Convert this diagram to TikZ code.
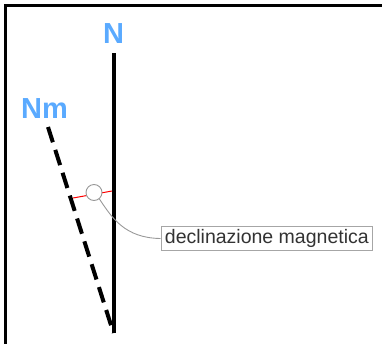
\documentclass[tikz,border=0pt]{standalone}
\usepackage{fontspec}
\setmainfont{Liberation Sans}
\begin{document}
\begin{tikzpicture}[x=1pt,y=-1pt,
  lbl/.style={text=lblue,font=\fontsize{29}{30}\selectfont\bfseries,inner sep=0pt},
  axis/.style={line width=4pt,black},
  callout/.style={draw=gray!70,line width=0.9pt,fill=white,inner xsep=4pt,inner ysep=3pt,text=black!80,font=\fontsize{19.5}{20}\selectfont}]
\definecolor{lblue}{RGB}{90,170,255}
\useasboundingbox (0,0) rectangle (382,343);
% frame (top and left edges visible)
\draw[line width=2.8pt] (5.7,400) -- (5.7,5.5) -- (400,5.5);
% labels
\node[lbl] (N) at (113.5,34) {N};
\node[lbl] (Nm) at (44.5,108.5) {Nm};
% axes
\coordinate (ntop) at (113.5,53);
\coordinate (nbot) at (113.5,333);
\coordinate (mtop) at (48,127);
\draw[axis] (ntop) -- (nbot);
\draw[axis,dash pattern=on 16pt off 8pt] (mtop) -- (nbot);
% angle marker
\coordinate (ra) at (73,198);
\coordinate (rb) at (112,191);
\draw[red,line width=1pt] (ra) -- (rb);
\node[circle,draw=gray!80,fill=white,line width=0.9pt,minimum size=16pt,inner sep=0pt] (c) at (94,192.5) {};
% callout
\node[callout,anchor=west] (box) at (160.5,238.5) {declinazione magnetica};
\draw[gray!80,line width=0.9pt] (c.-50) .. controls (112,218) and (125,238) .. (box.west);
\end{tikzpicture}
\end{document}
